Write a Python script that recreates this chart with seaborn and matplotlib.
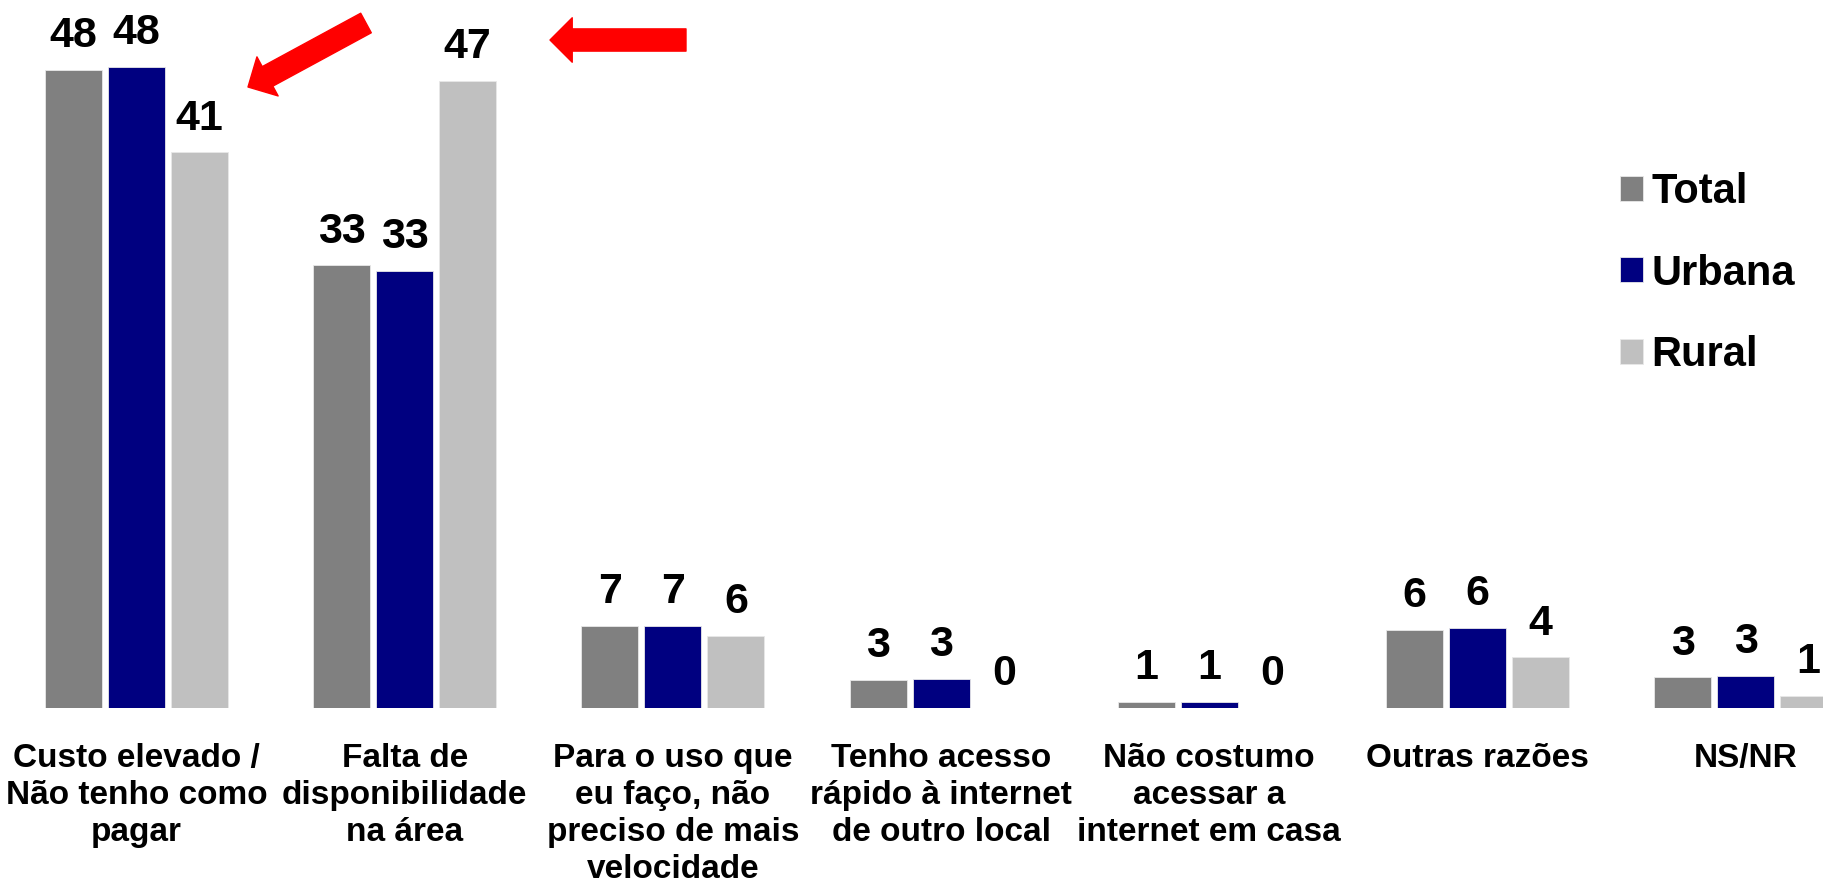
import matplotlib
matplotlib.use("Agg")
import matplotlib.pyplot as plt
import seaborn as sns
import pandas as pd

categorias = [
    "Custo elevado /\nNão tenho como\npagar",
    "Falta de\ndisponibilidade\nna área",
    "Para o uso que\neu faço, não\npreciso de mais\nvelocidade",
    "Tenho acesso\nrápido à internet\nde outro local",
    "Não costumo\nacessar a\ninternet em casa",
    "Outras razões",
    "NS/NR",
]
grupos = ["Total", "Urbana", "Rural"]

total = [48.0, 33.3, 6.2, 2.1, 0.45, 5.9, 2.3]
urbana = [48.2, 32.9, 6.2, 2.2, 0.45, 6.0, 2.4]
rural = [41.8, 47.2, 5.4, 0.0, 0.0, 3.8, 0.9]

# rótulos mostrados sobre as barras
rot_total = [48, 33, 7, 3, 1, 6, 3]
rot_urbana = [48, 33, 7, 3, 1, 6, 3]
rot_rural = [41, 47, 6, 0, 0, 4, 1]

cores = ["#808080", "#000080", "#C0C0C0"]

df = pd.DataFrame({
    "categoria": categorias * 3,
    "grupo": [g for g in grupos for _ in categorias],
    "valor": total + urbana + rural,
})

sns.set_theme(style="white")
plt.rcParams["font.family"] = ["Liberation Sans", "DejaVu Sans"]
plt.rcParams["text.color"] = "black"
plt.rcParams["xtick.color"] = "black"

fig = plt.figure(figsize=(18.24, 8.8), dpi=100)
ax = fig.add_axes([0, 172 / 880, 1, 708 / 880])

sns.barplot(data=df, x="categoria", y="valor", hue="grupo", palette=cores,
            saturation=1, width=0.705, gap=0.096, ax=ax,
            edgecolor="#e8e8e8", linewidth=0.6)

for cont, rot in zip(ax.containers, [rot_total, rot_urbana, rot_rural]):
    ax.bar_label(cont, labels=[str(r) for r in rot], padding=10,
                 fontsize=31, fontweight="bold", color="black")

ax.set_xlim(-0.509, 6.292)
ax.set_ylim(0, 53.27)
ax.set_xlabel("")
ax.set_ylabel("")
ax.set_yticks([])
ax.tick_params(axis="x", length=0, pad=25)
ax.set_xticks(range(len(categorias)))
ax.set_xticklabels(categorias, fontsize=24, fontweight="bold",
                   linespacing=1.25, color="black")
sns.despine(ax=ax, left=True, bottom=True)

ax.legend(loc="upper left", bbox_to_anchor=(1620 / 1824, 1 - 172 / 880),
          bbox_transform=fig.transFigure, frameon=False,
          prop={"weight": "bold", "size": 30}, handlelength=0.55,
          handleheight=0.55, handletextpad=0.2, labelspacing=1.0,
          borderpad=0, borderaxespad=0)

# setas vermelhas
seta = dict(arrowstyle="simple,head_length=1.0,head_width=2.0,tail_width=1.0",
            color="red", shrinkA=0, shrinkB=0, mutation_scale=16)
ax.annotate("", xy=(248, 880 - 87), xytext=(366, 880 - 23),
            xycoords="figure pixels", textcoords="figure pixels", arrowprops=seta)
ax.annotate("", xy=(550, 880 - 40), xytext=(686, 880 - 40),
            xycoords="figure pixels", textcoords="figure pixels", arrowprops=seta)

fig.savefig("out.png", dpi=100)
